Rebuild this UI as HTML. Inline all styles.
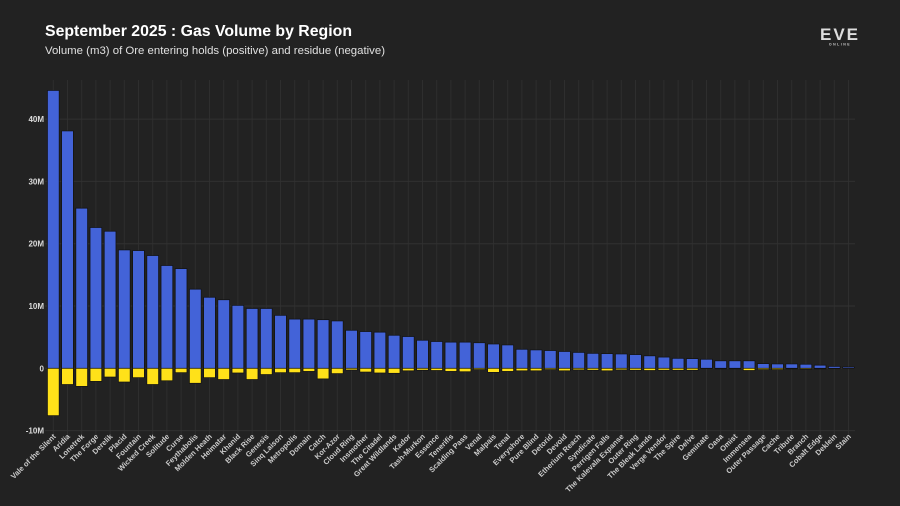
<!DOCTYPE html>
<html><head><meta charset="utf-8"><style>
html,body{margin:0;padding:0;background:#222;}
svg{display:block;font-family:"Liberation Sans",sans-serif;}
</style></head><body>
<svg id="chart" width="900" height="506" viewBox="0 0 900 506">
<rect width="900" height="506" fill="#222"/>
<text x="45" y="36" fill="#fff" font-size="16" font-weight="bold" textLength="307" lengthAdjust="spacingAndGlyphs">September 2025 : Gas Volume by Region</text>
<text x="45" y="54" fill="#e0e0e0" font-size="11" textLength="340" lengthAdjust="spacingAndGlyphs">Volume (m3) of Ore entering holds (positive) and residue (negative)</text>
<g>
<text x="840" y="40" fill="#ddd" font-size="17" font-weight="bold" text-anchor="middle" letter-spacing="2">EVE</text>
<text x="840" y="45.5" fill="#ccc" font-size="3.5" font-weight="bold" text-anchor="middle" letter-spacing="1.5">ONLINE</text>
</g>
<g id="grid"></g><g id="bars"></g><g id="labels"></g>
</svg>
<script>
const categories=["Vale of the Silent","Aridia","Lonetrek","The Forge","Derelik","Placid","Fountain","Wicked Creek","Solitude","Curse","Feythabolis","Molden Heath","Heimatar","Khanid","Black Rise","Genesis","Sinq Laison","Metropolis","Domain","Catch","Kor-Azor","Cloud Ring","Insmother","The Citadel","Great Wildlands","Kador","Tash-Murkon","Essence","Tenerifis","Scalding Pass","Venal","Malpais","Tenal","Everyshore","Pure Blind","Detorid","Devoid","Etherium Reach","Syndicate","Perrigen Falls","The Kalevala Expanse","Outer Ring","The Bleak Lands","Verge Vendor","The Spire","Delve","Geminate","Oasa","Omist","Immensea","Outer Passage","Cache","Tribute","Branch","Cobalt Edge","Deklein","Stain"];
const positiveM=[44.6,38.1,25.7,22.6,22.0,19.0,18.9,18.1,16.5,16.0,12.7,11.4,11.0,10.1,9.6,9.6,8.5,7.9,7.9,7.8,7.6,6.1,5.9,5.8,5.3,5.1,4.5,4.3,4.2,4.2,4.1,3.9,3.75,3.05,2.95,2.85,2.7,2.55,2.4,2.35,2.3,2.2,2.0,1.8,1.6,1.55,1.45,1.2,1.2,1.2,0.75,0.7,0.7,0.65,0.5,0.3,0.2];
const negativeM=[-7.6,-2.6,-2.9,-2.1,-1.4,-2.2,-1.5,-2.6,-2.0,-0.7,-2.4,-1.5,-1.8,-0.75,-1.8,-1.0,-0.7,-0.7,-0.5,-1.7,-0.85,-0.27,-0.6,-0.75,-0.8,-0.4,-0.3,-0.35,-0.5,-0.55,-0.2,-0.65,-0.5,-0.4,-0.4,-0.2,-0.4,-0.25,-0.3,-0.4,-0.25,-0.3,-0.35,-0.3,-0.3,-0.3,-0.05,-0.1,-0.1,-0.35,-0.2,-0.2,-0.1,-0.15,-0.1,-0.05,0];
const tickValues=[-10,0,10,20,30,40];
const tickLabels=["-10M","0","10M","20M","30M","40M"];

const NS="http://www.w3.org/2000/svg";
const y0=368.3, pxPerM=6.23;
const y=v=>y0-v*pxPerM;
const x=i=>53.3+i*14.2;
const bw=11.7;
function mk(tag,attrs,parent){const e=document.createElementNS(NS,tag);for(const k in attrs)e.setAttribute(k,attrs[k]);parent.appendChild(e);return e;}
const grid=document.getElementById('grid'),bars=document.getElementById('bars'),labels=document.getElementById('labels');
categories.forEach((c,i)=>{
  const l=mk('line',{x1:x(i),x2:x(i),y1:80,y2:437,stroke:'#2e2e2e','stroke-width':1},grid);
  
  
});
tickValues.forEach((t,k)=>{
  const l=mk('line',{x1:45,x2:855,y1:y(t),y2:y(t),stroke:'#313131','stroke-width':1},grid);
  
  
  const tx=mk('text',{x:44,y:y(t)+3,fill:'#ddd','font-size':8,'font-weight':'bold','text-anchor':'end'},grid);
  tx.textContent=tickLabels[k];
  
  
});
categories.forEach((c,i)=>{
  const p=positiveM[i],n=negativeM[i];
  const r=mk('rect',{x:x(i)-bw/2,y:y(p),width:bw,height:Math.max(0,y(0)-y(p)),fill:'#4363d8',stroke:'#111','stroke-width':0.7},bars);
  
  
  const r2=mk('rect',{x:x(i)-bw/2,y:y(0),width:bw,height:Math.max(0,y(n)-y(0)),fill:'#ffe119',stroke:'#111','stroke-width':0.7},bars);
  
  
  const t=mk('text',{x:x(i)+3,y:437,fill:'#ccc','font-size':7.5,'font-weight':'bold','text-anchor':'end',transform:`rotate(-45 ${x(i)+3} 437)`},labels);
  t.textContent=c;
  
  
});
</script>
</body></html>
